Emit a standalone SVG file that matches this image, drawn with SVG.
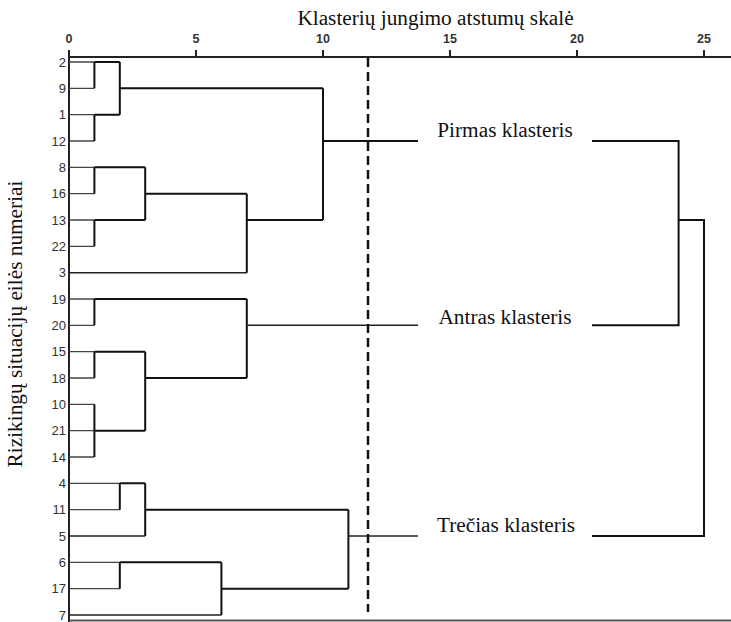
<svg xmlns="http://www.w3.org/2000/svg" width="731" height="622" viewBox="0 0 731 622">
<style>
.leaf{stroke:#444;stroke-width:1.3;fill:none}
.br{stroke:#111;stroke-width:2;fill:none}
.mid{stroke:#222;stroke-width:1.5;fill:none}
.ax{stroke:#222;stroke-width:2;fill:none}
.tick{font-family:"Liberation Sans",Arial,sans-serif;font-size:12.5px;font-weight:bold;fill:#333;text-anchor:middle}
.lab{font-family:"Liberation Sans",Arial,sans-serif;font-size:13px;fill:#333;text-anchor:end}
.ser{font-family:"Liberation Serif","Times New Roman",serif;font-size:21.3px;fill:#111}
</style>
<rect width="731" height="622" fill="#fff"/>
<g id="axis">
<path class="ax" d="M68 57H731M69 50V622M196 50V57M323 50V57M450 50V57M577 50V57M704 50V57"/>
<path d="M69 620.5H731" stroke="#555" stroke-width="2"/>
<text class="tick" x="69" y="43">0</text>
<text class="tick" x="196" y="43">5</text>
<text class="tick" x="323" y="43">10</text>
<text class="tick" x="450" y="43">15</text>
<text class="tick" x="577" y="43">20</text>
<text class="tick" x="704" y="43">25</text>
<text class="ser" x="435.5" y="25" text-anchor="middle">Klasterių jungimo atstumų skalė</text>
<text class="ser" transform="translate(22,324) rotate(-90)" text-anchor="middle">Rizikingų situacijų eilės numeriai</text>
</g>
<g id="leaves">
<text class="lab" x="66" y="66.5">2</text>
<text class="lab" x="66" y="92.8">9</text>
<text class="lab" x="66" y="119.2">1</text>
<text class="lab" x="66" y="145.5">12</text>
<text class="lab" x="66" y="171.8">8</text>
<text class="lab" x="66" y="198.2">16</text>
<text class="lab" x="66" y="224.5">13</text>
<text class="lab" x="66" y="250.8">22</text>
<text class="lab" x="66" y="277.2">3</text>
<text class="lab" x="66" y="303.5">19</text>
<text class="lab" x="66" y="329.8">20</text>
<text class="lab" x="66" y="356.2">15</text>
<text class="lab" x="66" y="382.5">18</text>
<text class="lab" x="66" y="408.8">10</text>
<text class="lab" x="66" y="435.2">21</text>
<text class="lab" x="66" y="461.5">14</text>
<text class="lab" x="66" y="487.8">4</text>
<text class="lab" x="66" y="514.2">11</text>
<text class="lab" x="66" y="540.5">5</text>
<text class="lab" x="66" y="566.8">6</text>
<text class="lab" x="66" y="593.2">17</text>
<text class="lab" x="66" y="619.5">7</text>
</g>
<g id="connectors">
<path class="leaf" d="M69 62H94.4M69 88.3H94.4M69 114.7H94.4M69 141H94.4M69 167.3H94.4M69 193.7H94.4M69 220H94.4M69 246.3H94.4M69 299H94.4M69 325.3H94.4M69 351.7H94.4M69 378H94.4M69 404.3H94.4M69 430.7H94.4M69 457H94.4M69 483.3H119.8M69 509.7H119.8M69 562.3H119.8M69 588.7H119.8"/>
<path class="mid" d="M69 272.7H246.8M69 536H145.2M69 615H221.4"/>
<path class="br" d="M94.4 62V88.3M94.4 62H119.8M94.4 114.7V141M94.4 114.7H119.8M119.8 62V114.7M119.8 88.3H323
M94.4 167.3V193.7M94.4 167.3H145.2M94.4 220V246.3M94.4 220H145.2M145.2 167.3V220M145.2 193.7H246.8M246.8 193.7V272.7M246.8 220H323M323 88.3V220M323 141H418"/>
<path class="br" d="M94.4 299V325.3M94.4 299H246.8M94.4 351.7V378M94.4 351.7H145.2M94.4 404.3V457M94.4 430.7H145.2M145.2 351.7V430.7M145.2 378H246.8M246.8 299V378"/>
<path class="mid" d="M246.8 325.3H418"/>
<path class="br" d="M119.8 483.3V509.7M119.8 483.3H145.2M145.2 483.3V536M145.2 509.7H348.4M119.8 562.3V588.7M119.8 562.3H221.4M221.4 562.3V615M221.4 588.7H348.4M348.4 509.7V588.7"/>
<path class="mid" d="M348.4 536H418"/>
<path class="br" d="M592 141H678.6V325.3H592M678.6 220H704V536H592"/>
<path d="M368 58V612" stroke="#111" stroke-width="2.5" stroke-dasharray="9 5"/>
</g>
<g id="cluster1"><text class="ser" x="505" y="137" text-anchor="middle">Pirmas klasteris</text></g>
<g id="cluster2"><text class="ser" x="505" y="324" text-anchor="middle">Antras klasteris</text></g>
<g id="cluster3"><text class="ser" x="506" y="532" text-anchor="middle">Trečias klasteris</text></g>
</svg>
